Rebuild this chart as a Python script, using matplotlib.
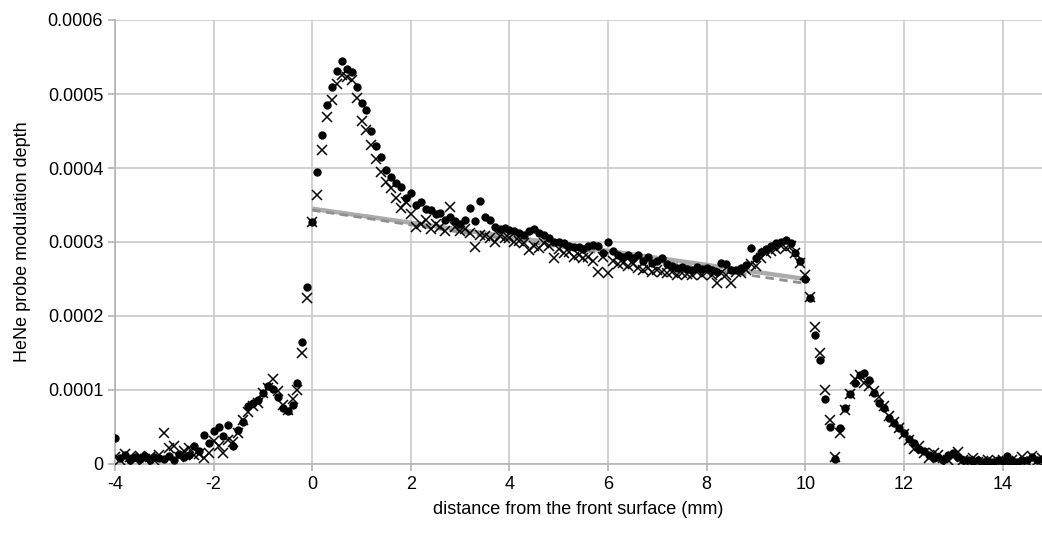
import numpy as np
import matplotlib.pyplot as plt

plt.rcParams['font.family'] = ['Liberation Sans', 'DejaVu Sans']
plt.rcParams['axes.unicode_minus'] = False

# positions along the sample (mm), one reading every 0.1 mm
x_start, x_stop, x_step = -4.0, 15.0, 0.1

# modulation depth, in units of 1e-7
dots_u = [
    350, 80, 120, 60, 100, 70, 110, 50, 90, 80,            # -4.0 .. -3.1
    70, 110, 60, 130, 90, 120, 240, 170, 390, 280,         # -3.0 .. -2.1
    450, 500, 380, 530, 250, 460, 570, 780, 820, 860,      # -2.0 .. -1.1
    960, 1050, 1010, 900, 760, 720, 800, 1100, 1650, 2390, # -1.0 .. -0.1
    3270, 3950, 4450, 4850, 5100, 5310, 5440, 5340, 5300, 5100,
    4880, 4780, 4500, 4300, 4150, 3970, 3880, 3800, 3740, 3600,
    3660, 3500, 3540, 3450, 3430, 3380, 3390, 3300, 3340, 3280,
    3250, 3300, 3460, 3280, 3550, 3340, 3300, 3200, 3180, 3190,
    3160, 3150, 3120, 3100, 3150, 3180, 3120, 3100, 3050, 3000,
    3000, 2990, 2950, 2930, 2930, 2900, 2950, 2960, 2940, 2850,
    3000, 2880, 2820, 2800, 2820, 2780, 2820, 2750, 2800, 2720,
    2750, 2780, 2700, 2680, 2650, 2660, 2640, 2620, 2660, 2640,
    2650, 2620, 2600, 2720, 2700, 2620, 2620, 2650, 2690, 2920,
    2780, 2870, 2900, 2950, 2990, 3000, 3030, 2980, 2850, 2740,
    2500, 2240, 1750, 1400, 880, 500, 70, 480, 760, 950,   # 10.0 .. 10.9
    1100, 1200, 1230, 1130, 960, 820, 760, 620, 560, 480,
    420, 340, 280, 200, 170, 120, 80, 100, 60, 120,
    150, 90, 60, 50, 40, 60, 30, 40, 30, 50,
    40, 110, 40, 30, 50, 60, 100, 50, 70, 60,
    80,
]

crosses_u = [
    100, 60, 130, 90, 50, 110, 70, 100, 60, 120,
    420, 220, 240, 100, 180, 220, 120, 130, 80, 150,
    310, 240, 150, 330, 300, 420, 600, 700, 780, 830,
    960, 1030, 1150, 980, 800, 730, 880, 1000, 1500, 2240,
    3270, 3630, 4250, 4690, 4920, 5140, 5260, 5230, 5190, 4950,
    4640, 4510, 4310, 4120, 3950, 3810, 3730, 3600, 3460, 3540,
    3380, 3200, 3250, 3300, 3180, 3250, 3200, 3150, 3470, 3200,
    3150, 3180, 3120, 2930, 3100, 3080, 3050, 3000, 3080, 3050,
    3050, 3000, 3020, 2980, 2890, 2950, 2920, 2980, 2950, 2780,
    2900, 2850, 2870, 2800, 2830, 2780, 2800, 2750, 2600, 2800,
    2580, 2750, 2700, 2720, 2680, 2700, 2650, 2620, 2650, 2600,
    2620, 2600, 2580, 2600, 2550, 2580, 2570, 2560, 2600, 2550,
    2600, 2550, 2450, 2580, 2550, 2450, 2600, 2580, 2620, 2700,
    2680, 2780, 2850, 2880, 2900, 2950, 2920, 2950, 2850, 2720,
    2550, 2260, 1850, 1500, 1000, 600, 100, 420, 730, 950,
    1150, 1200, 1100, 1050, 980, 900, 780, 650, 570, 480,
    400, 330, 200, 250, 150, 80, 150, 120, 80, 60,
    100, 160, 60, 40, 80, 30, 40, 60, 20, 40,
    50, 30, 60, 40, 100, 30, 110, 40, 80, 60,
    60,
]

# linear trend lines over the sample (0 .. 10 mm), units of 1e-7
fit_x = [0, 10]
fit_dots_u = [3450, 2500]
fit_crosses_u = [3430, 2440]

scale = 1e-7
x = np.round(np.arange(x_start, x_stop + x_step / 2, x_step), 2)
dots = np.array(dots_u) * scale
crosses = np.array(crosses_u) * scale

fig = plt.figure(figsize=(10.42, 5.44), dpi=100)
ax = fig.add_axes([115 / 1042, 80 / 544, 927 / 1042, 444 / 544])

ax.plot(fit_x, np.array(fit_dots_u) * scale, color='#ababab', lw=3.2, zorder=2,
        solid_capstyle='butt')
ax.plot(fit_x, np.array(fit_crosses_u) * scale, color='#8f8f8f', lw=2,
        dashes=(3, 2), zorder=2)
ax.plot(x, dots, 'o', color='black', ms=5, mec='black', zorder=3)
ax.plot(x, crosses, 'x', color='black', ms=6.5, mew=1.1, zorder=3)

ax.set_xlim(-4, 14.8)
ax.set_ylim(0, 0.0006)
ax.set_xticks(np.arange(-4, 15, 2))
ax.set_yticks(np.arange(0, 0.00061, 0.0001))
ax.set_yticklabels(['0', '0.0001', '0.0002', '0.0003', '0.0004', '0.0005', '0.0006'])

ax.grid(True, color='#c8c8c8', lw=1.2)
ax.set_axisbelow(True)
for side in ['top', 'right']:
    ax.spines[side].set_visible(False)
for side in ['left', 'bottom']:
    ax.spines[side].set_color('#b3b3b3')
    ax.spines[side].set_linewidth(1.2)
ax.tick_params(colors='#b3b3b3', labelcolor='black', labelsize=13, length=5, width=1.2)

ax.set_xlabel('distance from the front surface (mm)', fontsize=13, labelpad=6)
ax.set_ylabel('HeNe probe modulation depth', fontsize=13, labelpad=12)

fig.savefig('out.png', dpi=100)
